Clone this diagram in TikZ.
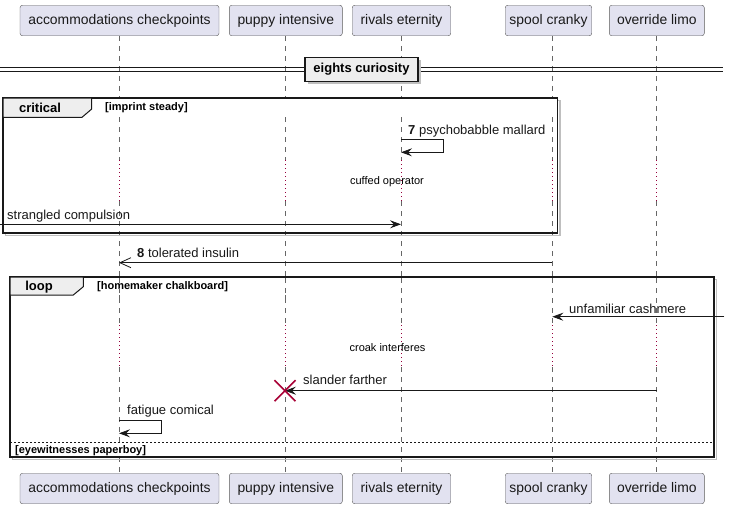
\documentclass[tikz,border=0pt]{standalone}
\usepackage{fontspec}
\setmainfont{Liberation Sans}
\usetikzlibrary{arrows.meta}
\definecolor{partfill}{RGB}{226,226,240}
\definecolor{partline}{RGB}{90,90,90}
\definecolor{tabfill}{RGB}{238,238,238}
\definecolor{delayred}{RGB}{150,0,60}
\definecolor{xred}{RGB}{168,0,54}
\begin{document}
\begin{tikzpicture}[x=1pt,y=-1pt,
  part/.style={draw=partline, fill=partfill, rounded corners=2.5pt, inner sep=0pt,
    font=\fontsize{13.9}{15}\selectfont, text=black!90, text height=10pt, text depth=3pt},
  life/.style={draw=black!60, line width=0.5pt, dash pattern=on 5pt off 5pt},
  delayline/.style={draw=delayred, line width=0.8pt, dash pattern=on 1pt off 3pt},
  msgtxt/.style={font=\fontsize{13}{15}\selectfont, anchor=west, inner sep=0pt, text=black!90},
  smalltxt/.style={font=\fontsize{11}{13}\selectfont, inner sep=0pt},
  guardtxt/.style={font=\bfseries\fontsize{11}{13}\selectfont, anchor=west, inner sep=0pt},
  tabtxt/.style={font=\bfseries\fontsize{13}{15}\selectfont, inner sep=0pt},
  msg/.style={draw=black!90, line width=0.8pt, -{Stealth[length=11pt,width=8pt,inset=4pt]}},
  amsg/.style={draw=black!90, line width=0.8pt, -{Straight Barb[length=11pt,width=10pt]}},
  frame/.style={draw=black!90, line width=1.5pt},
  shadow/.style={draw=black!25, line width=1.5pt},
]
\useasboundingbox (0,0) rectangle (730,509);

% participants
\node[part, minimum width=199pt, minimum height=30.5pt] (a1) at (119.5,20.5) {accommodations checkpoints};
\node[part, minimum width=113pt, minimum height=30.5pt] (b1) at (285.8,20.5) {puppy intensive};
\node[part, minimum width=98.5pt, minimum height=30.5pt] (c1) at (401.5,20.5) {rivals eternity};
\node[part, minimum width=86.5pt, minimum height=30.5pt] (d1) at (548.5,20.5) {spool cranky};
\node[part, minimum width=95pt, minimum height=30.5pt] (e1) at (656.8,20.5) {override limo};
\node[part, minimum width=199pt, minimum height=30.5pt] (a2) at (119.5,488.5) {accommodations checkpoints};
\node[part, minimum width=113pt, minimum height=30.5pt] (b2) at (285.8,488.5) {puppy intensive};
\node[part, minimum width=98.5pt, minimum height=30.5pt] (c2) at (401.5,488.5) {rivals eternity};
\node[part, minimum width=86.5pt, minimum height=30.5pt] (d2) at (548.5,488.5) {spool cranky};
\node[part, minimum width=95pt, minimum height=30.5pt] (e2) at (656.8,488.5) {override limo};

% lifelines
\foreach \p/\x in {a/119,b/285,c/401,d/552.3,e/656.7} {
  \coordinate (\p L) at (\x,0);
  \draw[life] (\p1.south -| \p L) -- (\x,160);
  \draw[delayline] (\x,160) -- (\x,201);
  \draw[life] (\x,201) -- (\x,325);
  \draw[delayline] (\x,325) -- (\x,367);
  \draw[life] (\x,367) -- (\p2.north -| \p L);
}

% divider
\draw[black!90, line width=0.8pt] (0,67.7) -- (723.3,67.7);
\draw[black!90, line width=0.8pt] (0,71) -- (723.3,71);
\fill[black!25] (307.5,59.8) rectangle (420.5,84.2);
\node[draw=black!90, line width=1.5pt, fill=tabfill, minimum width=113pt, minimum height=24.4pt,
  inner sep=0pt, font=\bfseries\fontsize{13}{15}\selectfont] (div) at (361.5,69.5) {eights curiosity};

% critical group
\draw[shadow] (5.5,100.5) rectangle (560.2,235.5);
\draw[frame, fill=white] (3,98) rectangle (557.7,233);
\draw[frame, line width=1pt, fill=tabfill] (3,98) -- (91.7,98) -- (91.7,109) -- (82,117.3) -- (3,117.3) -- cycle;
\node[tabtxt] (crit) at (40,108) {critical};
\node[guardtxt] (critg) at (105,107.5) {[imprint steady]};

% redraw lifelines inside critical frame
\foreach \x in {119,285,401,552.3} {
  \draw[life] (\x,117.3) -- (\x,160);
  \draw[delayline] (\x,160) -- (\x,201);
  \draw[life] (\x,201) -- (\x,232);
}

% message 7 (self)
\coordinate (m7a) at (401,139.3);
\coordinate (m7b) at (443,139.3);
\coordinate (m7c) at (443,152.3);
\coordinate (m7d) at (401,152.3);
\draw[msg] (m7a) -- (m7b) -- (m7c) -- (m7d);
\node[msgtxt] (t7) at (408,130.7) {\textbf{7} psychobabble mallard};

\node[smalltxt] (delay1) at (387,182) {cuffed operator};

% strangled compulsion (found message)
\coordinate (f1) at (0,224.3);
\coordinate (m1e) at (401,224.3);
\draw[msg] (f1) -- (m1e);
\node[msgtxt] (t1) at (7,216.2) {strangled compulsion};

% message 8 tolerated insulin (async)
\coordinate (m8s) at (552.3,262.7);
\coordinate (m8e) at (119,262.7);
\draw[amsg] (m8s) -- (m8e);
\node[msgtxt] (t8) at (137,252.7) {\textbf{8} tolerated insulin};

% loop group
\draw[shadow] (12.5,279.5) rectangle (716.5,459.5);
\draw[frame, fill=white] (10,277) rectangle (714,457);
\draw[frame, line width=1pt, fill=tabfill] (10,277) -- (83.3,277) -- (83.3,286.7) -- (73.3,295) -- (10,295) -- cycle;
\node[tabtxt] (loopt) at (39,287) {loop};
\node[guardtxt] (loopg) at (97,286.5) {[homemaker chalkboard]};

\foreach \x in {119,285,401,552.3,656.7} {
  \draw[life] (\x,278) -- (\x,325);
  \draw[delayline] (\x,325) -- (\x,367);
  \draw[life] (\x,367) -- (\x,456);
}
\foreach \x in {119,285} {
  \draw[life] (\x,295) -- (\x,300);
}

% unfamiliar cashmere (found from right)
\coordinate (f2) at (724.3,316.7);
\coordinate (m2e) at (552.3,316.7);
\draw[msg] (f2) -- (m2e);
\node[msgtxt] (t2) at (569,308.7) {unfamiliar cashmere};

\node[smalltxt] (delay2) at (387.5,347.5) {croak interferes};

% slander farther + destroy
\coordinate (m3s) at (656.7,390.7);
\coordinate (m3e) at (285,390.7);
\draw[msg] (m3s) -- (m3e);
\node[msgtxt] (t3) at (303,380) {slander farther};
\draw[xred, line width=1.6pt] (274.5,380.2) -- (295.5,401.2) (274.5,401.2) -- (295.5,380.2);

% fatigue comical (self)
\coordinate (m4a) at (119,420.7);
\coordinate (m4b) at (161.7,420.7);
\coordinate (m4c) at (161.7,433.3);
\coordinate (m4d) at (119,433.3);
\draw[msg] (m4a) -- (m4b) -- (m4c) -- (m4d);
\node[msgtxt] (t4) at (127,411.5) {fatigue comical};

% else separator
\draw[black!90, line width=0.8pt, dash pattern=on 2pt off 2pt] (10,442.3) -- (714,442.3);
\node[guardtxt] (elseg) at (15,450.5) {[eyewitnesses paperboy]};

\end{tikzpicture}
\end{document}
